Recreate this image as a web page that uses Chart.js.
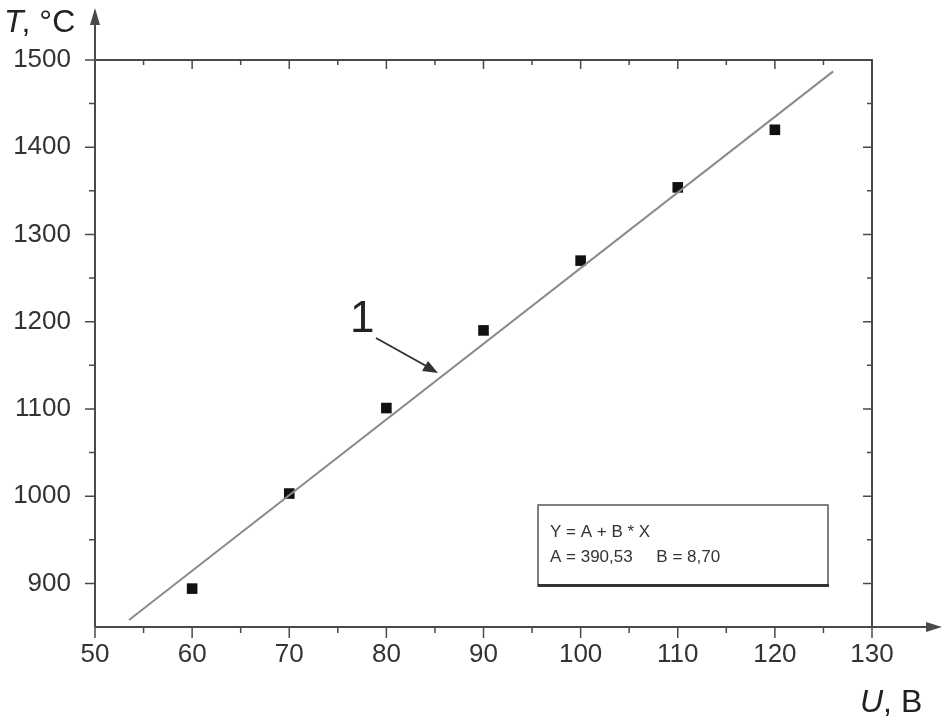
<!DOCTYPE html>
<html>
<head>
<meta charset="utf-8">
<script src="https://cdn.jsdelivr.net/npm/chart.js@4/dist/chart.umd.min.js"></script>
<style>
  html, body { margin: 0; padding: 0; background: #fff; }
  #wrap { width: 945px; height: 721px; }
</style>
</head>
<body>
<div id="wrap"><canvas id="c" width="945" height="721"></canvas></div>
<script>
// measured points
const uValues = [60, 70, 80, 90, 100, 110, 120];
const tValues = [894, 1003, 1101, 1190, 1270, 1354, 1420];
// fit line ends
const fitU = [53.5, 126];
const fitT = [858, 1487];
const xTicks = [50, 60, 70, 80, 90, 100, 110, 120, 130];
const yTicks = [900, 1000, 1100, 1200, 1300, 1400, 1500];
const xMinor = [55, 65, 75, 85, 95, 105, 115, 125];
const yMinor = [950, 1050, 1150, 1250, 1350, 1450];
const fitText = ['Y = A + B * X', 'A = 390,53     B = 8,70'];

const axisColor = '#4a4a4a';
const font = '"Liberation Sans", Arial, sans-serif';

const decor = {
    id: 'decor',
    afterDraw(chart) {
        const ctx = chart.ctx;
        const a = chart.chartArea;
        const xs = chart.scales.x, ys = chart.scales.y;
        ctx.save();
        ctx.strokeStyle = axisColor;
        ctx.fillStyle = axisColor;
        ctx.lineWidth = 2;

        // frame + axes with arrows
        ctx.beginPath();
        ctx.moveTo(a.left, a.top); ctx.lineTo(a.right, a.top); ctx.lineTo(a.right, a.bottom);
        ctx.moveTo(a.left, a.bottom); ctx.lineTo(932, a.bottom);
        ctx.moveTo(a.left, a.bottom); ctx.lineTo(a.left, 18);
        ctx.stroke();
        ctx.beginPath();
        ctx.moveTo(942, a.bottom); ctx.lineTo(926, a.bottom - 5); ctx.lineTo(926, a.bottom + 5); ctx.closePath();
        ctx.moveTo(a.left, 8); ctx.lineTo(a.left - 5, 25); ctx.lineTo(a.left + 5, 25); ctx.closePath();
        ctx.fill();

        ctx.lineWidth = 1.5;
        ctx.beginPath();
        xTicks.forEach(v => {
            const px = xs.getPixelForValue(v);
            ctx.moveTo(px, a.bottom); ctx.lineTo(px, a.bottom + 11);
            ctx.moveTo(px, a.top); ctx.lineTo(px, a.top + 9);
        });
        xMinor.forEach(v => {
            const px = xs.getPixelForValue(v);
            ctx.moveTo(px, a.bottom); ctx.lineTo(px, a.bottom + 6);
            ctx.moveTo(px, a.top); ctx.lineTo(px, a.top + 5);
        });
        yTicks.forEach(v => {
            const py = ys.getPixelForValue(v);
            ctx.moveTo(a.left, py); ctx.lineTo(a.left - 10, py);
            ctx.moveTo(a.right, py); ctx.lineTo(a.right - 9, py);
        });
        yMinor.forEach(v => {
            const py = ys.getPixelForValue(v);
            ctx.moveTo(a.left, py); ctx.lineTo(a.left - 6, py);
            ctx.moveTo(a.right, py); ctx.lineTo(a.right - 5, py);
        });
        ctx.stroke();

        // axis titles
        ctx.fillStyle = '#222';
        ctx.textBaseline = 'alphabetic';
        ctx.textAlign = 'left';
        ctx.font = 'italic 32px ' + font;
        ctx.fillText('T', 4, 32);
        ctx.font = '32px ' + font;
        ctx.fillText(', °C', 4 + ctx.measureText('T').width - 2, 32);
        ctx.font = 'italic 32px ' + font;
        ctx.fillText('U', 860, 712);
        ctx.font = '32px ' + font;
        ctx.fillText(', B', 860 + ctx.measureText('U').width, 712);

        // label 1 with arrow to the fit line
        ctx.font = '44px ' + font;
        ctx.fillText('1', 350, 332);
        ctx.strokeStyle = '#333';
        ctx.lineWidth = 2;
        ctx.beginPath();
        ctx.moveTo(376, 338); ctx.lineTo(428, 367);
        ctx.stroke();
        ctx.beginPath();
        ctx.moveTo(438, 373); ctx.lineTo(422, 371); ctx.lineTo(428, 361); ctx.closePath();
        ctx.fillStyle = '#333';
        ctx.fill();

        // fit box
        ctx.fillStyle = '#fff';
        ctx.fillRect(538, 505, 290, 81);
        ctx.strokeStyle = '#555';
        ctx.lineWidth = 1.5;
        ctx.strokeRect(538, 505, 290, 81);
        ctx.fillStyle = '#333';
        ctx.fillRect(538, 584, 291, 3);
        ctx.font = '17px ' + font;
        ctx.fillStyle = '#333';
        ctx.fillText(fitText[0], 550, 537);
        ctx.fillText(fitText[1], 550, 562);
        ctx.restore();
    }
};

new Chart(document.getElementById('c'), {
    type: 'scatter',
    data: {
        datasets: [
            {
                label: 'fit',
                type: 'line',
                data: fitU.map((u, i) => ({ x: u, y: fitT[i] })),
                borderColor: '#8a8a8a',
                borderWidth: 2,
                pointRadius: 0,
                fill: false
            },
            {
                label: 'T',
                data: uValues.map((u, i) => ({ x: u, y: tValues[i] })),
                pointStyle: 'rect',
                pointRadius: 7.5,
                backgroundColor: '#111',
                borderColor: '#111',
                borderWidth: 0
            }
        ]
    },
    options: {
        responsive: false,
        animation: false,
        layout: { padding: { left: 0, top: 60, right: 73, bottom: 0 } },
        plugins: { legend: { display: false }, tooltip: { enabled: false } },
        scales: {
            x: {
                type: 'linear',
                min: 50, max: 130,
                afterBuildTicks: s => { s.ticks = xTicks.map(v => ({ value: v })); },
                afterFit: s => { s.height = 94; },
                grid: { display: false, drawTicks: false },
                border: { display: false },
                ticks: { padding: 12, color: '#333', font: { family: font, size: 26 }, maxRotation: 0,
                         callback: v => String(v) }
            },
            y: {
                type: 'linear',
                min: 850, max: 1500,
                afterBuildTicks: s => { s.ticks = yTicks.map(v => ({ value: v })); },
                afterFit: s => { s.width = 95; },
                grid: { display: false, drawTicks: false },
                border: { display: false },
                ticks: { padding: 24, color: '#333', font: { family: font, size: 26 },
                         callback: v => String(v) }
            }
        }
    },
    plugins: [decor]
});
</script>
</body>
</html>
